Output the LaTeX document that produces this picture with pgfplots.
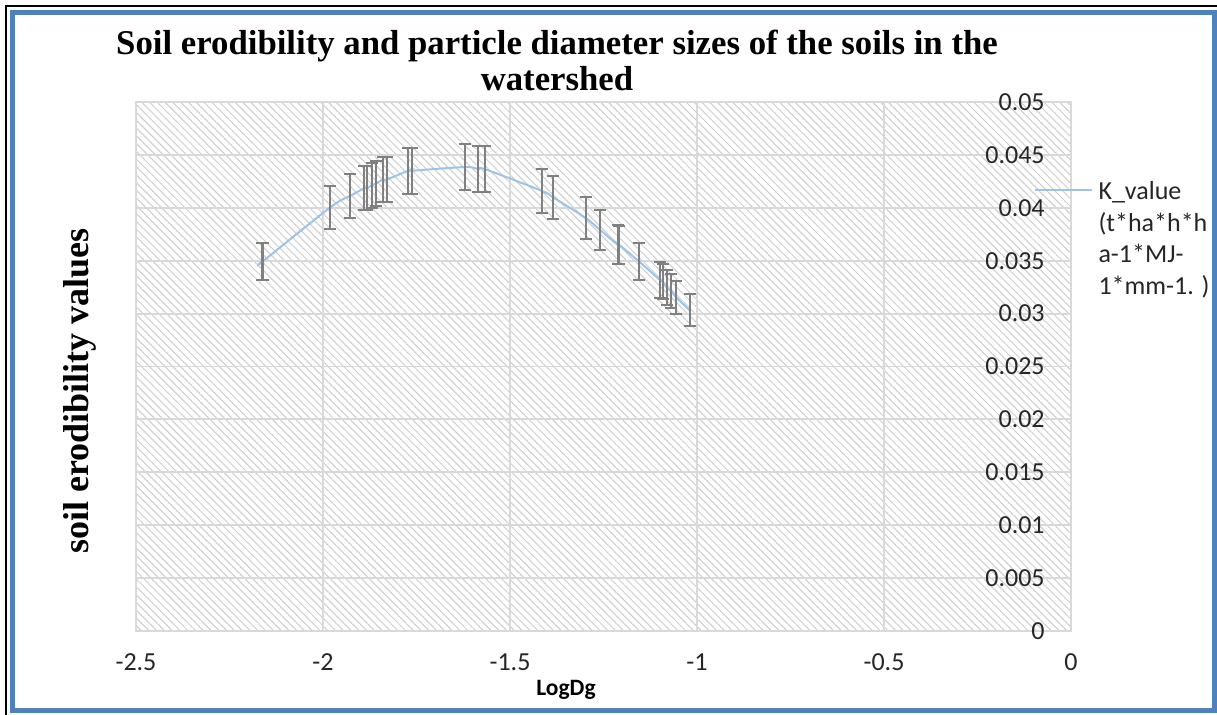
\documentclass[border=0pt]{standalone}
\usepackage{fontspec}
\setmainfont{Carlito}
\newfontfamily\serifbold{Liberation Serif}
\usepackage{pgfplots}
\pgfplotsset{compat=1.18}
\usetikzlibrary{patterns.meta}
\definecolor{gridgray}{RGB}{217,217,217}
\definecolor{hatchgray}{RGB}{205,205,205}
\definecolor{errgray}{RGB}{128,128,128}
\definecolor{kblue}{RGB}{157,195,230}
\definecolor{frameblue}{RGB}{79,129,189}

\begin{document}
\begin{tikzpicture}
\begin{axis}[
    scale only axis,
    width=374pt, height=211.6pt,
    xmin=-2.5, xmax=0, ymin=0, ymax=0.05,
    xtick={-2.5,-2,-1.5,-1,-0.5,0},
    ytick={0,0.005,0.01,0.015,0.02,0.025,0.03,0.035,0.04,0.045,0.05},
    scaled y ticks=false,
    yticklabel style={/pgf/number format/fixed, /pgf/number format/precision=3},
    /pgf/number format/assume math mode=true,
    tick label style={font=\fontsize{10.4}{12}\selectfont, text=black!85},
    ytick pos=right, yticklabel pos=right,
    yticklabel style={anchor=east, xshift=-7pt},
    xticklabel style={yshift=-5.6pt},
    major tick length=0pt,
    grid=major,
    major grid style={gridgray, line width=0.75pt},
    axis line style={gridgray, line width=0.75pt},
    axis background/.style={pattern={Lines[angle=-45,distance=2.2pt,line width=0.4pt]}, pattern color=hatchgray},
    clip=false,
]
\addplot[kblue, line width=0.8pt, smooth, tension=0.55,
    error bars/.cd, y dir=both, y fixed relative=0.05,
    error bar style={errgray, line width=0.8pt},
    error mark options={errgray, rotate=90, line width=0.8pt, mark size=2.4pt}]
coordinates {
(-2.163,0.03497) (-2.160,0.03497) (-1.981,0.04003) (-1.928,0.04111)
(-1.890,0.04184) (-1.883,0.04184) (-1.870,0.04212) (-1.858,0.04230)
(-1.840,0.04267) (-1.830,0.04267) (-1.772,0.04350) (-1.763,0.04350)
(-1.620,0.04385) (-1.585,0.04365) (-1.567,0.04365) (-1.415,0.04160)
(-1.384,0.04097) (-1.298,0.03904) (-1.259,0.03790) (-1.212,0.03651)
(-1.208,0.03650) (-1.154,0.03490) (-1.099,0.03318) (-1.092,0.03302)
(-1.081,0.03247) (-1.070,0.03217) (-1.056,0.03155) (-1.019,0.03030)
};
\end{axis}
% title
\node[font=\serifbold\bfseries\fontsize{13.9}{14.4}\selectfont, align=center]
  at (168.4pt,228.4pt) {Soil erodibility and particle diameter sizes of the soils in the\\watershed};
% axis labels
\node[font=\serifbold\bfseries\fontsize{14.4}{16}\selectfont, rotate=90]
  at (-22.4pt,96pt) {soil erodibility values};
\node[font=\bfseries\fontsize{9.4}{11}\selectfont] at (172pt,-23.6pt) {LogDg};
% legend
\draw[kblue, line width=0.6pt] (359.6pt,176.4pt) -- (382.4pt,176.4pt);
\begin{scope}[every node/.style={anchor=base west, inner sep=0pt, font=\fontsize{10.4}{12}\selectfont, text=black!85}]
\node at (384.8pt,172.4pt) {K\_value};
\node at (384.8pt,159.8pt) {(t*ha*h*h};
\node at (384.8pt,147.2pt) {a-1*MJ-};
\node at (384.8pt,134.6pt) {1*mm-1. )};
\end{scope}
% frame
\draw[black, line width=0.8pt] (-51.8pt,-40pt) -- (-51.8pt,249.8pt) -- (440pt,249.8pt);
\draw[frameblue, line width=2pt] (-49.2pt,-32pt) rectangle (431.4pt,247.2pt);
\pgfresetboundingbox
\path[use as bounding box] (-54.4pt,-33.6pt) rectangle (432.4pt,252.4pt);
\end{tikzpicture}
\end{document}
